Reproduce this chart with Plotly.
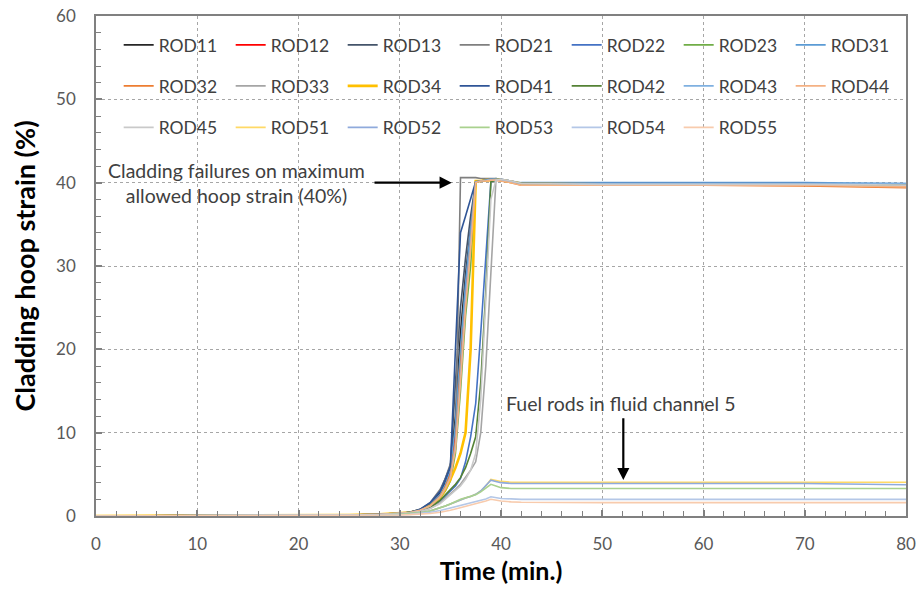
import plotly.graph_objects as go

# ---- data -------------------------------------------------------------
time_min = [0, 10, 20, 25, 28, 30, 31, 32, 33, 34, 34.5, 35, 35.5, 36, 36.5, 37,
            37.5, 38, 38.5, 39, 39.5, 40, 41, 42, 50, 60, 70, 80]

rod_names = ["ROD11", "ROD12", "ROD13", "ROD21", "ROD22", "ROD23", "ROD31",
             "ROD32", "ROD33", "ROD34", "ROD41", "ROD42", "ROD43", "ROD44",
             "ROD45", "ROD51", "ROD52", "ROD53", "ROD54", "ROD55"]

ROD11 = [0, 0.02, 0.06, 0.12, 0.2, 0.3, 0.45, 0.75, 1.4, 2.8, 4.0, 5.8, 12.0, 22.0, 29.0, 35.0,
         40.1, 40.2, 40.3, 40.4, 40.4, 40.3, 40.1, 39.9, 39.8, 39.8, 39.8, 39.7]
ROD12 = [0, 0.02, 0.06, 0.12, 0.2, 0.3, 0.42, 0.7, 1.3, 2.5, 3.6, 5.2, 10.0, 19.0, 27.0, 34.0,
         40.1, 40.2, 40.3, 40.3, 40.4, 40.3, 40.1, 39.9, 39.8, 39.8, 39.8, 39.7]
ROD13 = [0, 0.02, 0.06, 0.12, 0.2, 0.3, 0.45, 0.75, 1.5, 3.0, 4.5, 6.0, 16.0, 25.0, 31.0, 36.0,
         40.1, 40.2, 40.3, 40.4, 40.4, 40.3, 40.1, 39.9, 39.9, 39.9, 39.9, 39.8]
ROD21 = [0, 0.02, 0.06, 0.12, 0.2, 0.3, 0.45, 0.8, 1.6, 3.2, 4.5, 6.2, 8.0, 40.6, 40.6, 40.6,
         40.6, 40.5, 40.5, 40.5, 40.5, 40.4, 40.2, 39.9, 39.9, 39.9, 39.9, 39.8]
ROD22 = [0, 0.02, 0.06, 0.1, 0.18, 0.28, 0.4, 0.6, 1.0, 1.8, 2.4, 3.0, 3.6, 4.5, 6.5, 9.5,
         13.5, 22.0, 31.0, 40.1, 40.3, 40.3, 40.1, 39.9, 39.8, 39.8, 39.8, 39.8]
ROD23 = [0, 0.02, 0.06, 0.12, 0.2, 0.3, 0.42, 0.7, 1.2, 2.2, 3.0, 4.2, 7.5, 15.0, 24.0, 30.0,
         40.0, 40.2, 40.3, 40.3, 40.4, 40.3, 40.1, 39.9, 39.8, 39.8, 39.8, 39.7]
ROD31 = [0, 0.02, 0.06, 0.12, 0.2, 0.3, 0.43, 0.72, 1.3, 2.6, 3.8, 5.5, 11.0, 20.0, 28.0, 34.5,
         40.1, 40.2, 40.3, 40.4, 40.5, 40.4, 40.2, 40.0, 40.0, 40.0, 40.0, 39.9]
ROD32 = [0, 0.02, 0.06, 0.12, 0.2, 0.3, 0.42, 0.7, 1.2, 2.4, 3.5, 5.0, 9.0, 18.0, 26.0, 33.0,
         40.1, 40.2, 40.2, 40.3, 40.3, 40.2, 40.0, 39.7, 39.7, 39.7, 39.6, 39.4]
ROD33 = [0, 0.02, 0.05, 0.1, 0.16, 0.25, 0.36, 0.55, 0.9, 1.6, 2.1, 2.6, 3.2, 3.8, 4.6, 5.5,
         6.5, 10.0, 18.0, 30.0, 40.3, 40.4, 40.2, 39.9, 39.8, 39.8, 39.8, 39.7]
ROD34 = [0, 0.02, 0.06, 0.12, 0.2, 0.3, 0.42, 0.7, 1.2, 2.2, 3.2, 4.4, 5.8, 7.5, 10.0, 20.0,
         40.2, 40.2, 40.3, 40.3, 40.4, 40.3, 40.1, 39.9, 39.8, 39.8, 39.8, 39.7]
ROD41 = [0, 0.02, 0.06, 0.12, 0.2, 0.3, 0.45, 0.8, 1.6, 3.0, 4.4, 6.0, 20.0, 34.0, 36.0, 38.0,
         40.1, 40.2, 40.3, 40.4, 40.4, 40.3, 40.1, 39.9, 39.9, 39.9, 39.9, 39.8]
ROD42 = [0, 0.02, 0.06, 0.1, 0.18, 0.28, 0.4, 0.62, 1.0, 1.9, 2.5, 3.1, 3.8, 4.6, 5.8, 7.5,
         9.5, 16.0, 27.0, 40.1, 40.3, 40.3, 40.1, 39.9, 39.8, 39.8, 39.8, 39.7]
ROD43 = [0, 0.02, 0.06, 0.12, 0.2, 0.3, 0.42, 0.7, 1.2, 2.3, 3.3, 4.7, 8.5, 17.0, 26.0, 33.0,
         40.1, 40.2, 40.3, 40.4, 40.4, 40.3, 40.1, 39.9, 39.9, 39.9, 39.9, 39.9]
ROD44 = [0, 0.02, 0.06, 0.12, 0.2, 0.3, 0.42, 0.7, 1.2, 2.3, 3.3, 4.6, 8.0, 16.0, 25.0, 32.0,
         40.0, 40.2, 40.2, 40.3, 40.3, 40.2, 40.0, 39.7, 39.7, 39.7, 39.7, 39.5]
ROD45 = [0, 0.02, 0.05, 0.1, 0.16, 0.25, 0.36, 0.55, 0.9, 1.5, 2.0, 2.5, 3.0, 3.6, 4.4, 5.5,
         7.5, 14.0, 26.0, 38.0, 40.3, 40.4, 40.2, 39.9, 39.8, 39.8, 39.8, 39.7]
ROD51 = [0, 0.02, 0.05, 0.08, 0.12, 0.2, 0.28, 0.4, 0.6, 0.95, 1.2, 1.45, 1.7, 1.95, 2.15, 2.35,
         2.6, 3.0, 3.6, 4.4, 4.3, 4.15, 4.05, 4.05, 4.05, 4.05, 4.05, 4.05]
ROD52 = [0, 0.02, 0.05, 0.08, 0.12, 0.2, 0.28, 0.4, 0.6, 0.95, 1.2, 1.45, 1.7, 1.95, 2.15, 2.35,
         2.6, 3.0, 3.6, 4.3, 4.15, 4.0, 3.9, 3.9, 3.9, 3.9, 3.9, 3.75]
ROD53 = [0, 0.02, 0.05, 0.08, 0.12, 0.2, 0.28, 0.4, 0.6, 0.95, 1.2, 1.45, 1.75, 2.0, 2.2, 2.4,
         2.55, 2.9, 3.3, 3.8, 3.6, 3.4, 3.3, 3.3, 3.3, 3.3, 3.3, 3.3]
ROD54 = [0, 0.02, 0.04, 0.06, 0.1, 0.15, 0.2, 0.3, 0.45, 0.65, 0.8, 0.95, 1.1, 1.25, 1.4, 1.55,
         1.7, 1.85, 2.05, 2.3, 2.2, 2.1, 2.05, 2.0, 2.0, 2.0, 2.0, 2.0]
ROD55 = [0, 0.02, 0.03, 0.05, 0.08, 0.12, 0.16, 0.22, 0.3, 0.45, 0.55, 0.7, 0.85, 1.0, 1.15, 1.3,
         1.45, 1.6, 1.8, 2.0, 1.9, 1.8, 1.7, 1.65, 1.6, 1.6, 1.6, 1.6]

rod_values = [ROD11, ROD12, ROD13, ROD21, ROD22, ROD23, ROD31, ROD32, ROD33, ROD34,
              ROD41, ROD42, ROD43, ROD44, ROD45, ROD51, ROD52, ROD53, ROD54, ROD55]

rod_colors = ["#262626", "#FF0000", "#44546A", "#7F7F7F", "#4472C4", "#70AD47", "#5B9BD5",
              "#ED7D31", "#A5A5A5", "#FFC000", "#2F5597", "#548235", "#7FB0E0", "#F4B183",
              "#C9C9C9", "#FFD966", "#8FAADC", "#A9D18E", "#B4C7E7", "#F8CBAD"]

x_ticks = [0, 10, 20, 30, 40, 50, 60, 70, 80]
y_ticks = [0, 10, 20, 30, 40, 50, 60]

FONT = "Lato"
fig = go.Figure()

legend_of = ["legend"] * 7 + ["legend2"] * 7 + ["legend3"] * 6
for name, vals, col, lg in zip(rod_names, rod_values, rod_colors, legend_of):
    fig.add_trace(go.Scatter(
        x=time_min, y=vals, mode="lines", name=name, legend=lg,
        line=dict(color=col, width=2.6 if name == "ROD34" else 1.6),
    ))

leg_common = dict(orientation="h", xanchor="left", yanchor="middle",
                  entrywidth=67, entrywidthmode="pixels", itemwidth=30,
                  bgcolor="rgba(0,0,0,0)",
                  font=dict(family=FONT, size=17.5, color="#404040"))
fig.update_layout(
    legend=dict(x=0.028, y=0.942, **leg_common),
    legend2=dict(x=0.028, y=0.860, **leg_common),
    legend3=dict(x=0.028, y=0.777, **leg_common),
)

axis_common = dict(
    showline=True, linecolor="#808080", linewidth=1.5, mirror=True,
    showgrid=True, gridcolor="#A6A6A6", gridwidth=1, griddash="dot",
    ticks="inside", ticklen=6, tickcolor="#808080", tickwidth=1.5,
    tickfont=dict(family=FONT, size=17, color="#595959"),
    zeroline=False, automargin=False, ticklabeloverflow="allow",
    minor=dict(dtick=2, ticks="inside", ticklen=5, tickcolor="#808080", tickwidth=1, showgrid=False),
)

fig.update_xaxes(range=[0, 80], tickvals=x_ticks, ticklabelstandoff=12,
                 title=dict(text="<b>Time (min.)</b>", standoff=9,
                            font=dict(family=FONT, size=25, color="#000000")),
                 **axis_common)
fig.update_yaxes(range=[0, 60], tickvals=y_ticks, ticklabelstandoff=15,
                 title=dict(text="<b>Cladding hoop strain (%)</b>", standoff=13,
                            font=dict(family=FONT, size=27, color="#000000")),
                 **axis_common)

# annotations
fig.add_annotation(x=13.9, y=40.0, xref="x", yref="y", showarrow=False,
                   text="Cladding failures on maximum<br>allowed hoop strain (40%)",
                   font=dict(family=FONT, size=19.5, color="#404040"), align="center")
fig.add_annotation(x=35.13, y=40.0, ax=27.36, ay=40.0, axref="x", ayref="y",
                   xref="x", yref="y", text="", showarrow=True,
                   arrowhead=2, arrowsize=1.1, arrowwidth=2.2, arrowcolor="#000000")
fig.add_annotation(x=51.83, y=13.56, xref="x", yref="y", showarrow=False,
                   text="Fuel rods in fluid channel 5",
                   font=dict(family=FONT, size=19.5, color="#404040"))
fig.add_annotation(x=52.08, y=4.32, ax=52.08, ay=11.9, axref="x", ayref="y",
                   xref="x", yref="y", text="", showarrow=True,
                   arrowhead=2, arrowsize=1.1, arrowwidth=2.2, arrowcolor="#000000")

fig.update_layout(
    width=919, height=590,
    margin=dict(l=96, r=13, t=16, b=74, autoexpand=False),
    paper_bgcolor="#FFFFFF", plot_bgcolor="#FFFFFF",
    showlegend=True,
)

# remove the default page margin so the figure fills the window exactly
fig.write_html("out.html",
               config={"displayModeBar": False},
               post_script="document.body.style.margin='0';document.body.style.overflow='hidden';")
